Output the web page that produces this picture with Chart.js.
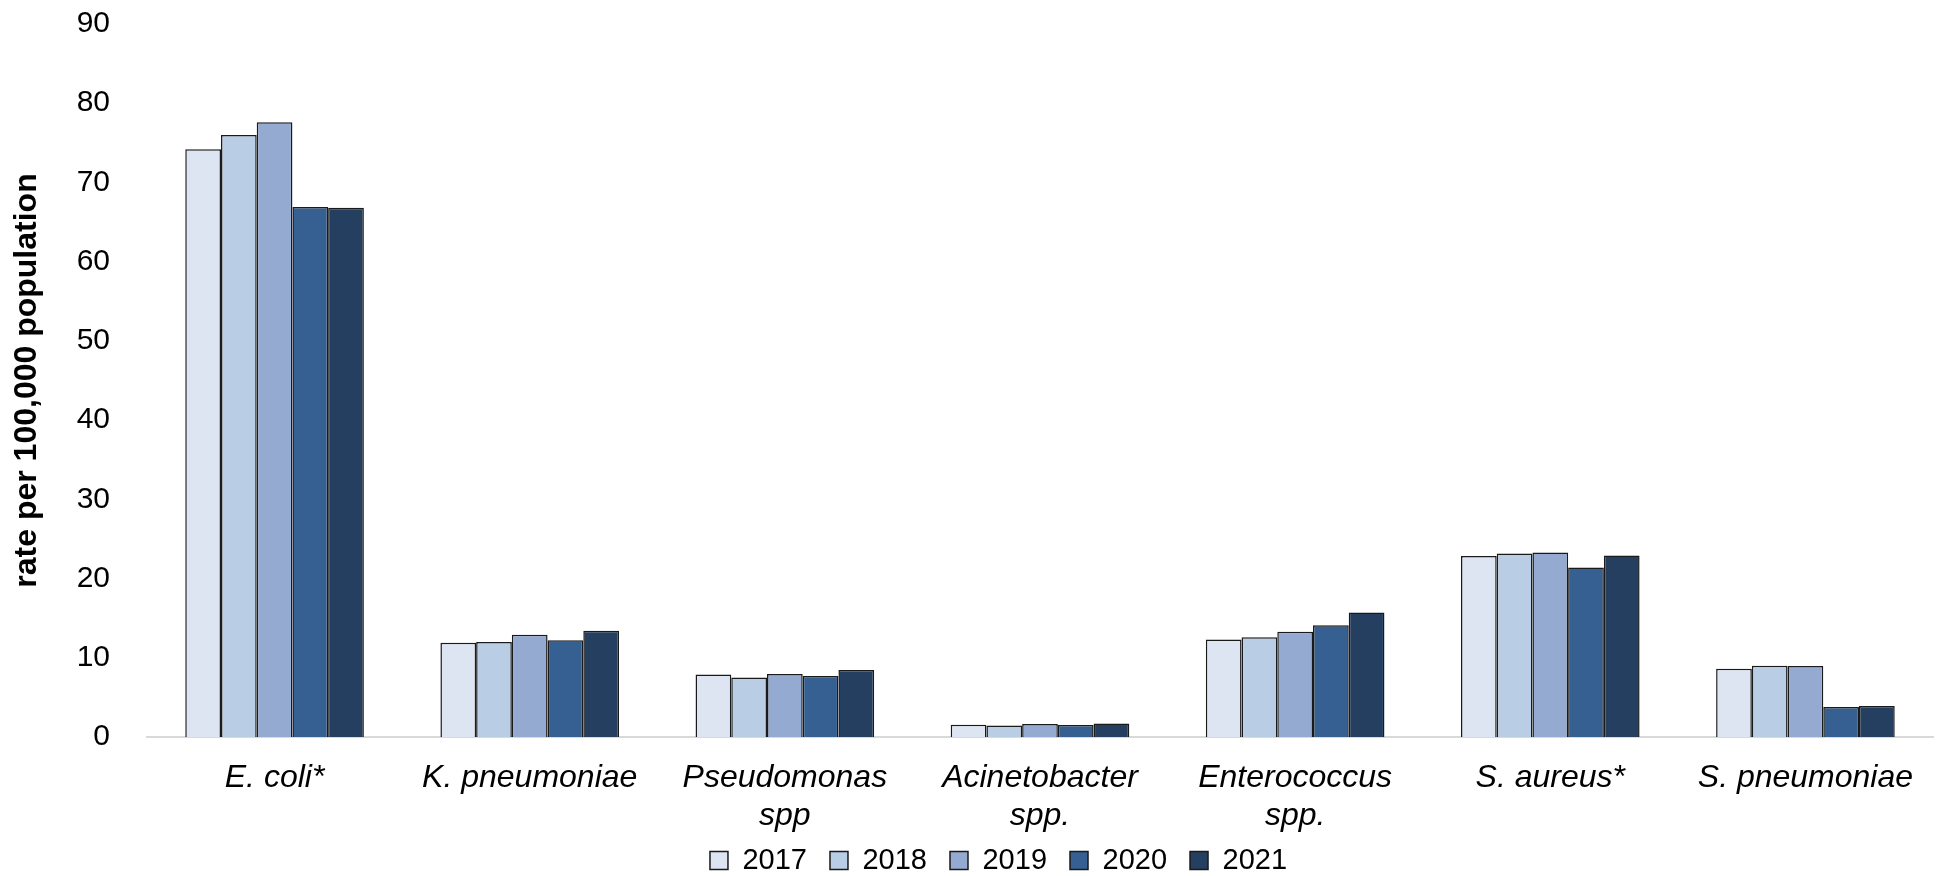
<!DOCTYPE html>
<html>
<head>
<meta charset="utf-8">
<title>rate per 100,000 population</title>
<script src="https://cdn.jsdelivr.net/npm/chart.js@4/dist/chart.umd.min.js"></script>
<style>
    html, body { margin: 0; padding: 0; background: #fff; }
    #rate-wrap { width: 1936px; height: 876px; }
</style>
</head>
<body>
<div id="rate-wrap"><canvas id="rate-chart" width="1936" height="876"></canvas></div>
<script>
const organisms = ['E. coli*', 'K. pneumoniae', ['Pseudomonas', 'spp'], ['Acinetobacter', 'spp.'], ['Enterococcus', 'spp.'], 'S. aureus*', 'S. pneumoniae'];
const years = ['2017', '2018', '2019', '2020', '2021'];

const rate2017 = [74.2, 11.9, 7.9, 1.55, 12.3, 22.85, 8.6];
const rate2018 = [76.0, 12.0, 7.5, 1.45, 12.6, 23.15, 9.0];
const rate2019 = [77.6, 12.9, 7.95, 1.65, 13.3, 23.3, 8.95];
const rate2020 = [66.9, 12.2, 7.7, 1.5, 14.1, 21.4, 3.8];
const rate2021 = [66.8, 13.4, 8.45, 1.7, 15.7, 22.9, 3.9];

const yTicks = [0, 10, 20, 30, 40, 50, 60, 70, 80, 90];
const yearColors = ['#dce5f1', '#b9cde4', '#95aad0', '#366091', '#253f60'];

const fontFamily = "'Liberation Sans', Arial, sans-serif";

// move the legend row: a bit right of centre, and up into the space below the labels
const legendNudge = {
    id: 'legendNudge',
    afterLayout: function (chart) {
        let lg = chart.legend;
        lg.left += 32;
        lg.right += 32;
        lg.top -= 14;
        lg.bottom -= 14;
    }
};

$ready(function () {
    drawRateChart();
});

function $ready(fn) {
    if (document.readyState !== 'loading') fn();
    else document.addEventListener('DOMContentLoaded', fn);
}

function drawRateChart() {
    let rateCanvas = document.getElementById('rate-chart');
    let series = [rate2017, rate2018, rate2019, rate2020, rate2021];
    let datasets = [];

    series.forEach(function (values, i) {
        datasets.push({
            label: years[i],
            data: values,
            backgroundColor: yearColors[i],
            borderColor: '#1a1a1a',
            borderWidth: 1.5,
            borderSkipped: 'bottom',
            categoryPercentage: 0.70,
            barPercentage: 1.0
        });
    });

    let data = {
        labels: organisms,
        datasets: datasets
    };

    new Chart(rateCanvas.getContext('2d'), {
        type: 'bar',
        data: data,
        plugins: [legendNudge],
        options: {
            responsive: false,
            animation: false,
            devicePixelRatio: 1,
            // legend sits close to the bottom edge, hence the negative bottom padding
            layout: { padding: { top: 24, right: 3, left: 0, bottom: -23 } },
            plugins: {
                tooltip: { enabled: false },
                legend: {
                    position: 'bottom',
                    labels: {
                        color: '#000',
                        font: { family: fontFamily, size: 29 },
                        boxWidth: 18,
                        boxHeight: 18,
                        padding: 23
                    }
                }
            },
            scales: {
                x: {
                    grid: { display: false },
                    border: { display: true, color: '#d9d9d9', width: 2 },
                    afterFit: function (axis) {
                        axis.height = 100;
                    },
                    ticks: {
                        color: '#000',
                        padding: 14,
                        maxRotation: 0,
                        autoSkip: false,
                        font: { family: fontFamily, size: 32, style: 'italic', lineHeight: 1.18 }
                    }
                },
                y: {
                    min: 0,
                    max: 90,
                    grid: { display: false },
                    border: { display: false },
                    afterBuildTicks: function (axis) {
                        axis.ticks = yTicks.map(function (v) { return { value: v }; });
                    },
                    afterFit: function (axis) {
                        axis.width = 147;
                        axis.paddingTop = 0;
                    },
                    ticks: {
                        color: '#000',
                        padding: 29,
                        font: { family: fontFamily, size: 30 }
                    },
                    title: {
                        display: true,
                        text: 'rate per 100,000 population',
                        color: '#000',
                        padding: { top: 8, bottom: 0 },
                        font: { family: fontFamily, size: 32, weight: 'bold' }
                    }
                }
            }
        }
    });
}
</script>
</body>
</html>
